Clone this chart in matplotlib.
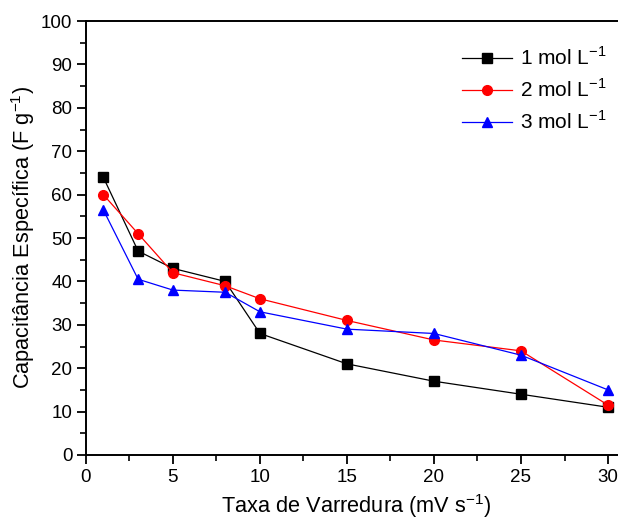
import matplotlib
matplotlib.use('Agg')
import matplotlib.pyplot as plt
from matplotlib.ticker import MultipleLocator

plt.rcParams['font.family'] = ['Liberation Sans', 'DejaVu Sans']
plt.rcParams['mathtext.fontset'] = 'custom'
plt.rcParams['mathtext.rm'] = 'Liberation Sans'
plt.rcParams['axes.unicode_minus'] = False

# scan rates (mV/s)
scan_rate = [1, 3, 5, 8, 10, 15, 20, 25, 30]

# specific capacitance (F/g) for each concentration
cap_1M = [64, 47, 43, 40, 28, 21, 17, 14, 11]
cap_2M = [60, 51, 42, 39, 36, 31, 26.5, 24, 11.5]
cap_3M = [56.5, 40.5, 38, 37.5, 33, 29, 28, 23, 15]

labels = [r'1 mol L$^{\mathregular{-1}}$', r'2 mol L$^{\mathregular{-1}}$', r'3 mol L$^{\mathregular{-1}}$']

fig = plt.figure(figsize=(6.18, 5.26), dpi=100)
ax = fig.add_axes([0.139, 0.135, 0.873, 0.825])

ax.plot(scan_rate, cap_1M, color='black', marker='s', markersize=6.5, linewidth=0.9, label=labels[0])
ax.plot(scan_rate, cap_2M, color='red', marker='o', markersize=7, linewidth=0.9, label=labels[1])
ax.plot(scan_rate, cap_3M, color='blue', marker='^', markersize=7.5, linewidth=0.9, label=labels[2])

ax.set_xlim(0, 31)
ax.set_ylim(0, 100)
ax.xaxis.set_major_locator(MultipleLocator(5))
ax.xaxis.set_minor_locator(MultipleLocator(2.5))
ax.yaxis.set_major_locator(MultipleLocator(10))
ax.yaxis.set_minor_locator(MultipleLocator(5))
ax.tick_params(which='major', direction='out', length=6.3, width=1.3, labelsize=13.5, pad=3.5,
               top=False, right=False)
ax.tick_params(which='minor', direction='out', length=4, width=1.2, top=False, right=False)
for s in ax.spines.values():
    s.set_linewidth(1.4)

ax.set_xlabel(r'Taxa de Varredura (mV s$^{\mathregular{-1}}$)', fontsize=15.7, labelpad=5)
ax.set_ylabel(r'Capacitância Específica (F g$^{\mathregular{-1}}$)', fontsize=15.7, labelpad=3)

ax.legend(loc='upper right', bbox_to_anchor=(1.0, 0.985), frameon=False, fontsize=15,
          handlelength=2.4, labelspacing=0.45, handletextpad=0.4)

fig.savefig('out.png', dpi=100)
